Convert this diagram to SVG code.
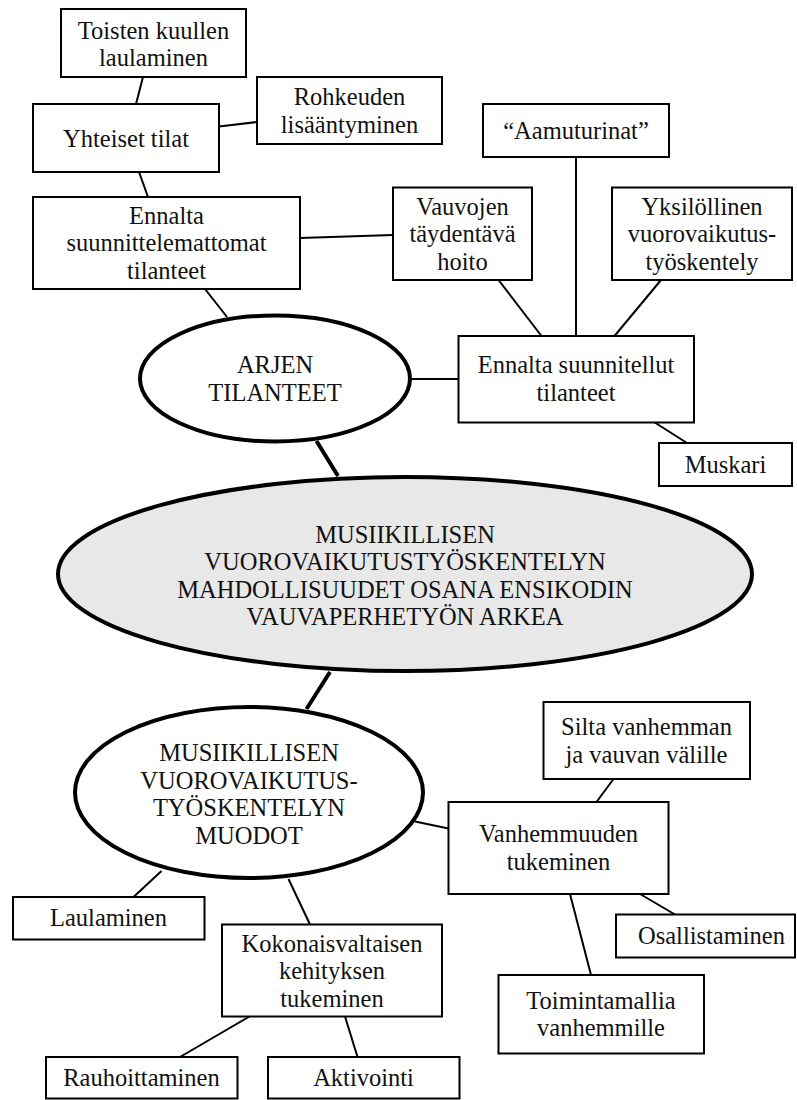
<svg xmlns="http://www.w3.org/2000/svg" width="797" height="1100" viewBox="0 0 797 1100">
<style>
.box{fill:#fff;stroke:#000;stroke-width:2}
.ell{fill:#fff;stroke:#000;stroke-width:4}
.main{fill:#e8e8e8;stroke:#000;stroke-width:4}
.ln{stroke:#000;stroke-width:2;fill:none}
.thick{stroke:#000;stroke-width:4;fill:none}
.t{font-size:24.5px;fill:#111;text-anchor:middle}
</style>
<rect width="797" height="1100" fill="#fff"/>
<g id="connectors">
<line class="ln" x1="143" y1="77" x2="136" y2="104"/>
<line class="ln" x1="219" y1="126.5" x2="257" y2="122"/>
<line class="ln" x1="139" y1="172" x2="148" y2="197"/>
<line class="ln" x1="300" y1="238" x2="393" y2="235"/>
<line class="ln" x1="205" y1="289" x2="227" y2="317"/>
<line class="ln" x1="411" y1="379" x2="458" y2="379"/>
<line class="ln" x1="498.5" y1="280" x2="541.5" y2="336"/>
<line class="ln" x1="576" y1="157" x2="576" y2="336"/>
<line class="ln" x1="661" y1="280" x2="614.5" y2="336"/>
<line class="ln" x1="654" y1="422" x2="687" y2="443"/>
<line class="thick" x1="316.5" y1="441" x2="338" y2="476"/>
<line class="thick" x1="330" y1="672" x2="306.5" y2="709"/>
<line class="ln" x1="415" y1="821.5" x2="448.5" y2="828.5"/>
<line class="ln" x1="613.5" y1="779" x2="596.5" y2="802"/>
<line class="ln" x1="640" y1="894" x2="675" y2="914.5"/>
<line class="ln" x1="570" y1="894" x2="591" y2="975"/>
<line class="ln" x1="161.5" y1="871" x2="133.5" y2="897"/>
<line class="ln" x1="288.5" y1="879" x2="310" y2="924.5"/>
<line class="ln" x1="249.5" y1="1016.5" x2="180" y2="1057"/>
<line class="ln" x1="345" y1="1016.5" x2="357.5" y2="1057"/>
</g>
<g class="t" font-family="'Liberation Serif', Tinos, 'Times New Roman', 'DejaVu Serif', serif">
<g id="toisten"><rect class="box" x="61" y="9" width="185" height="68"/><text x="153.5" y="38.5">Toisten kuullen</text><text x="153.5" y="66">laulaminen</text></g>
<g id="yhteiset"><rect class="box" x="33" y="104" width="186" height="68"/><text x="126" y="146.5">Yhteiset tilat</text></g>
<g id="rohkeuden"><rect class="box" x="257" y="77" width="185" height="67"/><text x="349.5" y="105">Rohkeuden</text><text x="349.5" y="132.5">lisääntyminen</text></g>
<g id="ennalta-suunnittelemattomat"><rect class="box" x="33" y="197" width="267" height="92"/><text x="166.5" y="223.5">Ennalta</text><text x="166.5" y="251">suunnittelemattomat</text><text x="166.5" y="278.5">tilanteet</text></g>
<g id="aamuturinat"><rect class="box" x="483" y="104" width="186" height="53"/><text x="576" y="139">“Aamuturinat”</text></g>
<g id="vauvojen"><rect class="box" x="393" y="187.5" width="139" height="92.5"/><text x="462.5" y="214.5">Vauvojen</text><text x="462.5" y="242">täydentävä</text><text x="462.5" y="269.5">hoito</text></g>
<g id="yksilollinen"><rect class="box" x="612" y="187.5" width="180" height="92.5"/><text x="702" y="214.5">Yksilöllinen</text><text x="702" y="242">vuorovaikutus-</text><text x="702" y="269.5">työskentely</text></g>
<g id="ennalta-suunnitellut"><rect class="box" x="458.5" y="336" width="235.5" height="86.5"/><text x="576" y="373">Ennalta suunnitellut</text><text x="576" y="400.5">tilanteet</text></g>
<g id="muskari"><rect class="box" x="659" y="443" width="133" height="43"/><text x="725.5" y="472.5">Muskari</text></g>
<g id="arjen"><ellipse class="ell" cx="275" cy="378.5" rx="135" ry="63"/><text x="275" y="373">ARJEN</text><text x="275" y="401">TILANTEET</text></g>
<g id="main"><ellipse class="main" cx="405" cy="574" rx="347" ry="97"/><text x="405" y="542.5">MUSIIKILLISEN</text><text x="405" y="570">VUOROVAIKUTUSTYÖSKENTELYN</text><text x="405" y="597.5">MAHDOLLISUUDET OSANA ENSIKODIN</text><text x="405" y="625">VAUVAPERHETYÖN ARKEA</text></g>
<g id="muodot"><ellipse class="ell" cx="249" cy="792.5" rx="174" ry="85.5"/><text x="249" y="761">MUSIIKILLISEN</text><text x="249" y="788.5">VUOROVAIKUTUS-</text><text x="249" y="816">TYÖSKENTELYN</text><text x="249" y="843.5">MUODOT</text></g>
<g id="silta"><rect class="box" x="543.5" y="702" width="206.5" height="77"/><text x="646.5" y="735">Silta vanhemman</text><text x="646.5" y="762.5">ja vauvan välille</text></g>
<g id="vanhemmuuden"><rect class="box" x="448.5" y="802" width="220" height="92"/><text x="558.5" y="842">Vanhemmuuden</text><text x="558.5" y="869.5">tukeminen</text></g>
<g id="osallistaminen"><rect class="box" x="616" y="914.5" width="179" height="43"/><text x="711.5" y="944">Osallistaminen</text></g>
<g id="toimintamallia"><rect class="box" x="498.5" y="975" width="205.5" height="78.5"/><text x="601" y="1008.5">Toimintamallia</text><text x="601" y="1036">vanhemmille</text></g>
<g id="laulaminen"><rect class="box" x="13" y="897" width="191.5" height="42.5"/><text x="108.5" y="926">Laulaminen</text></g>
<g id="kokonaisvaltaisen"><rect class="box" x="222" y="924.5" width="220" height="92"/><text x="332" y="951.5">Kokonaisvaltaisen</text><text x="332" y="979">kehityksen</text><text x="332" y="1006.5">tukeminen</text></g>
<g id="rauhoittaminen"><rect class="box" x="46" y="1057" width="191.5" height="41.5"/><text x="141.5" y="1086">Rauhoittaminen</text></g>
<g id="aktivointi"><rect class="box" x="268" y="1057" width="191.5" height="41.5"/><text x="363.5" y="1086">Aktivointi</text></g>
</g>
</svg>
